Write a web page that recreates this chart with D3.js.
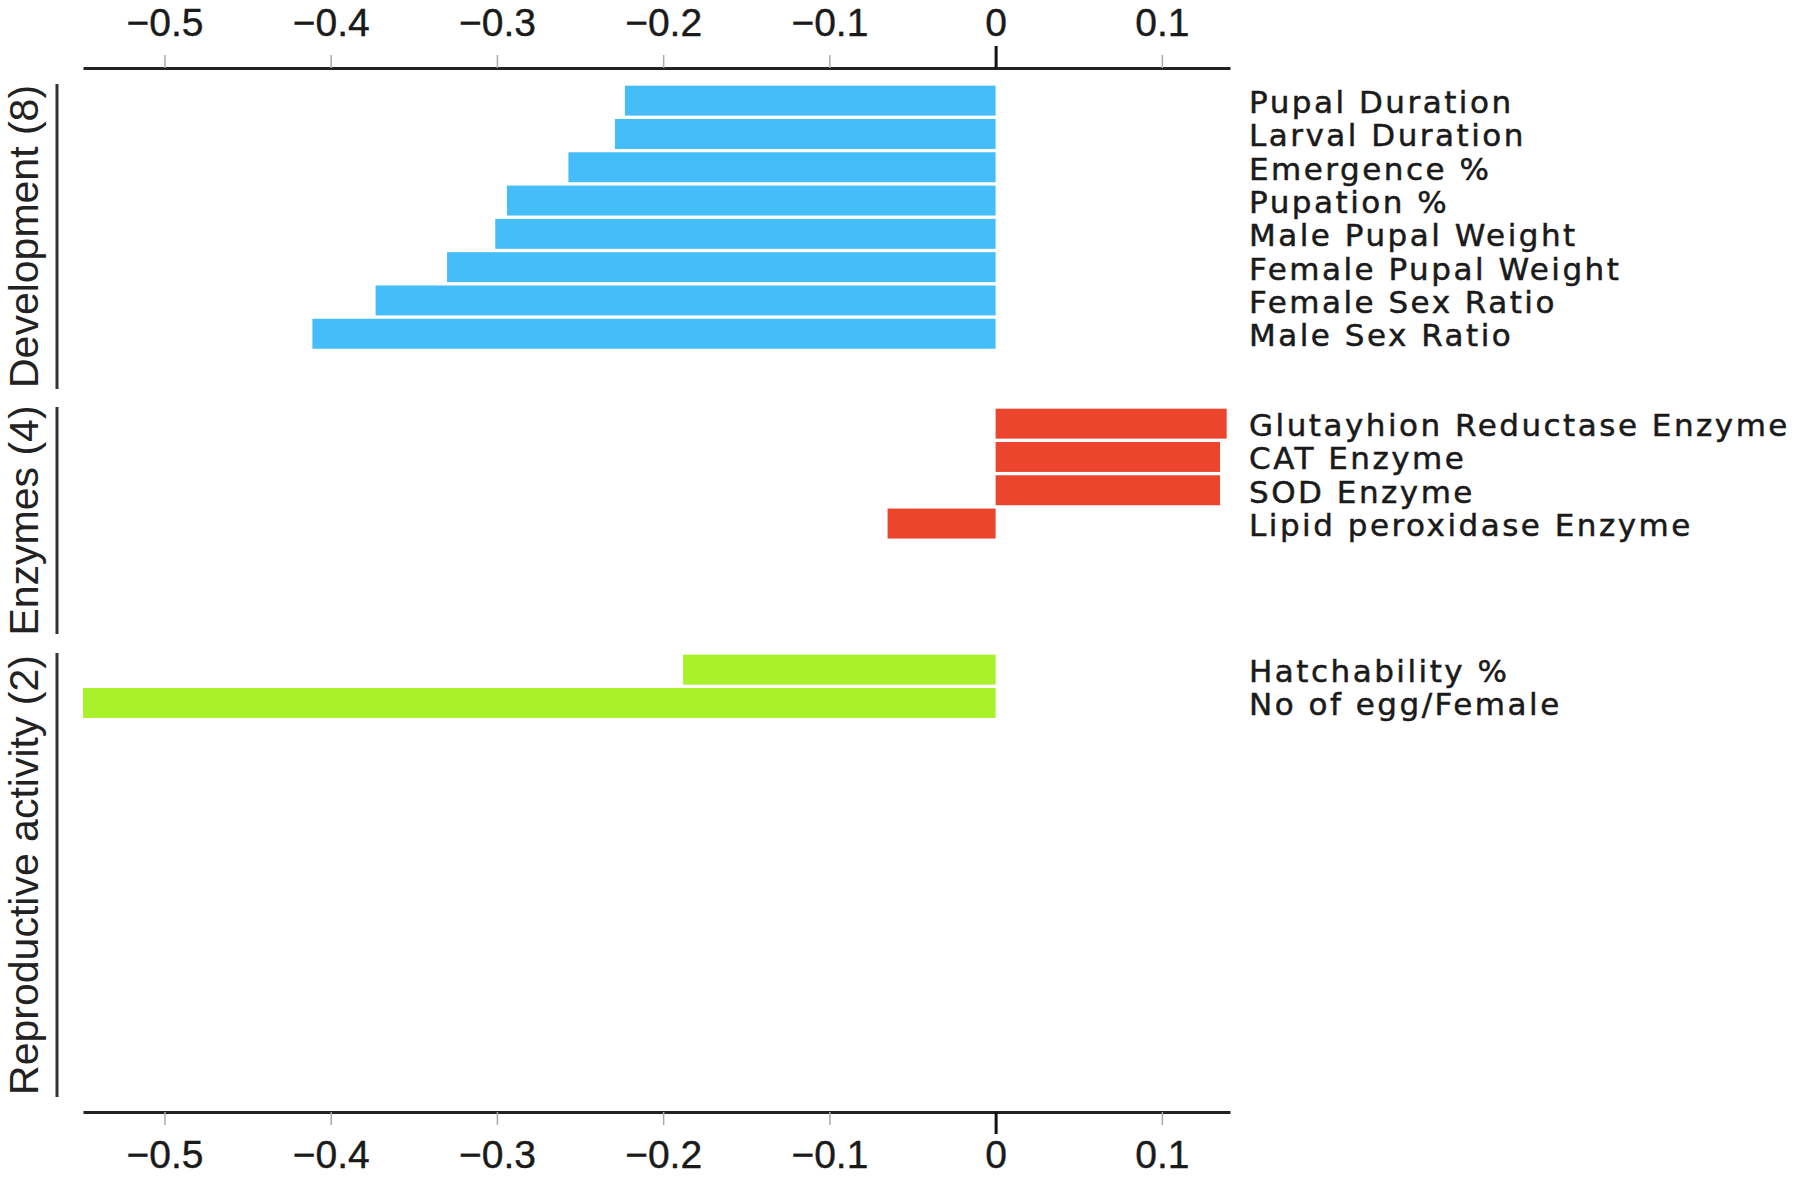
<!DOCTYPE html>
<html>
<head>
<meta charset="utf-8">
<script src="https://cdn.jsdelivr.net/npm/d3@7"></script>
<style>
  body { margin: 0; background: #fff; }
  svg { display: block; }
</style>
</head>
<body>
<svg id="chart"></svg>
<script>
// data
var groups = ["Development (8)", "Enzymes (4)", "Reproductive activity (2)"];

var devTraits = ["Pupal Duration", "Larval Duration", "Emergence %", "Pupation %",
                 "Male Pupal Weight", "Female Pupal Weight", "Female Sex Ratio", "Male Sex Ratio"];
var devValues = [-0.223, -0.229, -0.257, -0.294, -0.301, -0.330, -0.373, -0.411];

var enzTraits = ["Glutayhion Reductase Enzyme", "CAT Enzyme", "SOD Enzyme", "Lipid peroxidase Enzyme"];
var enzValues = [0.139, 0.135, 0.135, -0.065];

var repTraits = ["Hatchability %", "No of egg/Female"];
var repValues = [-0.188, -0.549];

var xTicks = [-0.5, -0.4, -0.3, -0.2, -0.1, 0, 0.1];

var colors = ["#45bdf8", "#eb452e", "#a9f12b"];

// layout
var width = 1800, height = 1177;
var topAxisY = 68, bottomAxisY = 1112;
var bracketX = 57;
var labelX = 1249;
// vertical extent of every panel (bracket line)
var panelTop = [84, 407, 653];
var panelBottom = [389, 634, 1097];
var rowStep = 33.3;

var svg = d3.select("#chart")
    .attr("width", width)
    .attr("height", height);

var x = d3.scaleLinear()
    .domain([-0.549, 0.141])
    .range([83, 1230]);

var panels = [
    {traits: devTraits, values: devValues},
    {traits: enzTraits, values: enzValues},
    {traits: repTraits, values: repValues}
];

panels.forEach(function(p, i) {
    var y = d3.scaleBand()
        .domain(p.traits)
        .range([panelTop[i], panelTop[i] + p.traits.length * rowStep])
        .paddingInner(0.1)
        .paddingOuter(0.05);

    var rows = p.traits.map(function(t, j) { return {trait: t, value: p.values[j]}; });

    var g = svg.append("g");

    g.selectAll("rect")
        .data(rows)
        .enter()
        .append("rect")
        .attr("x", function(d) { return x(Math.min(0, d.value)); })
        .attr("width", function(d) { return Math.abs(x(d.value) - x(0)); })
        .attr("y", function(d) { return y(d.trait); })
        .attr("height", y.bandwidth())
        .attr("fill", colors[i]);

    g.selectAll("text.trait")
        .data(rows)
        .enter()
        .append("text")
        .attr("class", "trait")
        .attr("x", labelX)
        .attr("y", function(d) { return y(d.trait) + y.bandwidth() / 2 + 4; })
        .attr("dominant-baseline", "middle")
        .style("font-family", "DejaVu Sans")
        .style("font-size", "31px")
        .style("letter-spacing", "2.5px")
        .attr("fill", "#1a1a1a")
        .attr("stroke", "#1a1a1a")
        .attr("stroke-width", 0.5)
        .text(function(d) { return d.trait; });

    // group bracket and its name
    g.append("line")
        .attr("x1", bracketX).attr("x2", bracketX)
        .attr("y1", panelTop[i]).attr("y2", panelBottom[i])
        .attr("stroke", "#333")
        .attr("stroke-width", 3);

    var mid = (panelTop[i] + panelBottom[i]) / 2;
    g.append("text")
        .attr("transform", "translate(38," + mid + ") rotate(-90)")
        .attr("text-anchor", "middle")
        .style("font-family", "Liberation Sans, Arial, sans-serif")
        .style("font-size", "41px")
        .attr("fill", "#222")
        .text(groups[i]);
});

function fmt(d) { return d === 0 ? "0" : d3.format(".1f")(d); }

function styleAxis(g, dir) {
    g.select(".domain")
        .attr("stroke", "#222")
        .attr("stroke-width", 3);
    g.selectAll(".tick line")
        .attr("stroke", function(d) { return d === 0 ? "#111" : "#aaa"; })
        .attr("stroke-width", function(d) { return d === 0 ? 3 : 1.5; })
        .attr("y2", function(d) { return dir * (d === 0 ? 22 : 13); });
    g.selectAll(".tick text")
        .attr("dy", null)
        .attr("y", dir < 0 ? -32 : 56)
        .attr("fill", "#1a1a1a")
        .attr("stroke", "#1a1a1a")
        .attr("stroke-width", 0.4)
        .style("font-family", "Liberation Sans, Arial, sans-serif")
        .style("font-size", "39px");
}

var topAxis = svg.append("g")
    .attr("transform", "translate(0," + topAxisY + ")")
    .call(d3.axisTop(x).tickValues(xTicks).tickFormat(fmt).tickSizeOuter(0));
styleAxis(topAxis, -1);

var bottomAxis = svg.append("g")
    .attr("transform", "translate(0," + bottomAxisY + ")")
    .call(d3.axisBottom(x).tickValues(xTicks).tickFormat(fmt).tickSizeOuter(0));
styleAxis(bottomAxis, 1);
</script>
</body>
</html>
